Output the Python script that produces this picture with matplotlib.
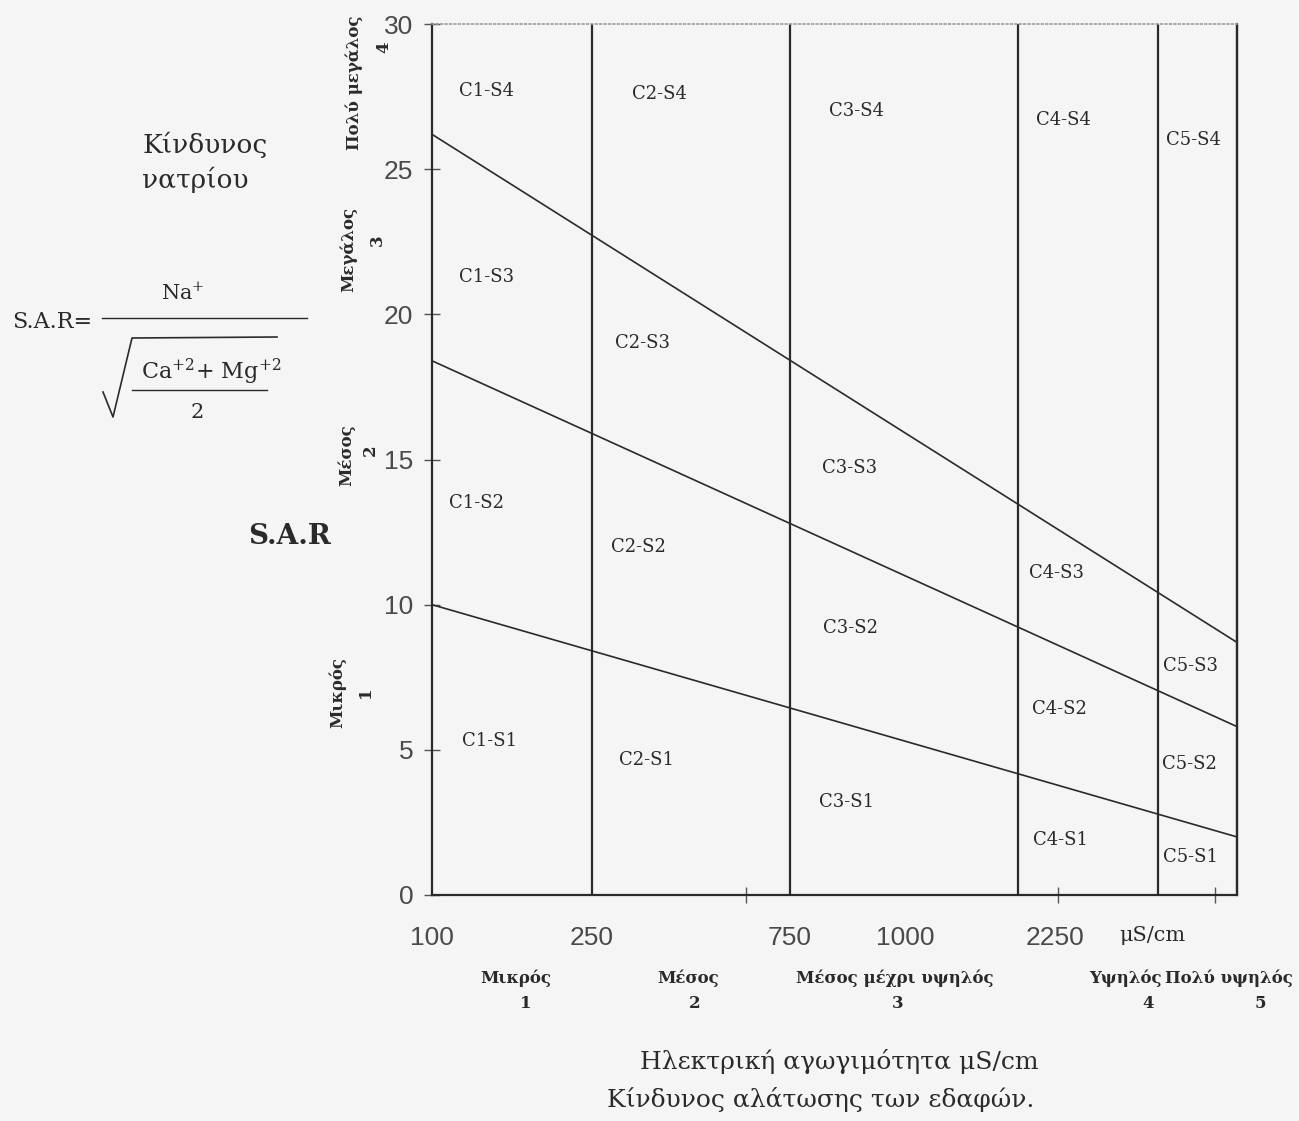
import matplotlib.pyplot as plt
from matplotlib import font_manager
from matplotlib.lines import Line2D

plt.rcParams['mathtext.fontset'] = 'dejavuserif'

# --- data (x in diagram units, SAR on y) ---
sar_ticks = [0, 5, 10, 15, 20, 25, 30]
ec_labels = ['100', '250', '750', '1000', '2250', 'μS/cm']
ec_label_pos = [0, 160, 358, 473, 623, 720]
ec_tick_marks = [0, 160, 314, 473, 626, 783]
class_bounds = [160, 358, 586, 726, 805]

line_x = [0, 805]
s4_limit = [26.2, 8.7]
s3_limit = [18.4, 5.8]
s2_limit = [10.0, 2.0]

region_names = ['C1-S4', 'C2-S4', 'C3-S4', 'C4-S4', 'C5-S4',
                'C1-S3', 'C2-S3', 'C3-S3', 'C4-S3', 'C5-S3',
                'C1-S2', 'C2-S2', 'C3-S2', 'C4-S2', 'C5-S2',
                'C1-S1', 'C2-S1', 'C3-S1', 'C4-S1', 'C5-S1']
region_x = [55, 227, 425, 631, 761,
            55, 211, 418, 625, 759,
            45, 206, 418, 627, 757,
            58, 215, 415, 628, 759]
region_y = [27.7, 27.6, 27.0, 26.7, 26.0,
            21.3, 19.0, 14.7, 11.1, 7.9,
            13.5, 12.0, 9.2, 6.4, 4.5,
            5.3, 4.65, 3.2, 1.9, 1.3]

ink = '#2a2a2a'
bg = '#f5f5f5'

names = {f.name for f in font_manager.fontManager.ttflist}
tick_font = 'Liberation Sans Narrow' if 'Liberation Sans Narrow' in names else 'Liberation Sans'

W, H = 1299, 1121
fig = plt.figure(figsize=(12.99, 11.21), dpi=100, facecolor=bg)


def fx(px):
    return px / W


def fy(py):
    return 1 - py / H


ax = fig.add_axes([fx(432), fy(895), fx(1237) - fx(432), fy(24) - fy(895)])
ax.set_facecolor(bg)
ax.set_xlim(0, 805)
ax.set_ylim(0, 30)

ax.vlines(class_bounds, 0, 30, color=ink, lw=1.6, clip_on=False)
for lim in [s4_limit, s3_limit, s2_limit]:
    ax.plot(line_x, lim, color=ink, lw=1.2, clip_on=False)

for name, x, y in zip(region_names, region_x, region_y):
    ax.text(x, y, name, ha='center', va='center', family='DejaVu Serif',
            fontsize=13, color=ink)

# spines
for s in ['left', 'bottom', 'right']:
    ax.spines[s].set_color(ink)
    ax.spines[s].set_linewidth(1.6)
ax.spines['top'].set_color('#9a9a9a')
ax.spines['top'].set_linestyle(':')
ax.spines['top'].set_linewidth(1.2)

# y ticks
ax.set_yticks(sar_ticks)
ax.set_yticklabels([str(t) for t in sar_ticks], family=tick_font,
                   fontsize=19, color='#4a4a4a')
ax.tick_params(axis='y', direction='inout', length=11, width=1,
               color='#555555', pad=8)

# x ticks: marks as minor, labels as major
ax.set_xticks(ec_tick_marks, minor=True)
ax.set_xticks(ec_label_pos)
ax.set_xticklabels(ec_labels, family=tick_font, fontsize=19, color='#4a4a4a')
ax.get_xticklabels()[-1].set_family('DejaVu Serif')
ax.get_xticklabels()[-1].set_fontsize(15)
ax.get_xticklabels()[-1].set_color(ink)
ax.tick_params(axis='x', which='major', length=0, pad=22)
ax.tick_params(axis='x', which='minor', direction='inout', length=11,
               width=1, color='#555555')

# rotated hazard class labels on the left
bold = dict(family='DejaVu Serif', fontweight='bold', color=ink, fontsize=12)
left_words = ['Πολύ μεγάλος', 'Μεγάλος', 'Μέσος', 'Μικρός']
left_word_pos = [(354, 83), (349, 249), (347, 455), (337, 693)]
left_digits = ['4', '3', '2', '1']
left_digit_pos = [(384, 47), (377, 240), (370, 450), (365, 692)]
for w, (x, y) in zip(left_words, left_word_pos):
    fig.text(fx(x), fy(y), w, rotation=90, ha='center', va='center', **bold)
for d, (x, y) in zip(left_digits, left_digit_pos):
    fig.text(fx(x), fy(y), d, rotation=90, ha='center', va='center', **bold)

# salinity classes below the axis
bottom_words = ['Μικρός', 'Μέσος', 'Μέσος μέχρι υψηλός', 'Υψηλός']
bottom_word_x = [516, 688, 895, 1125]
bottom_digits = ['1', '2', '3', '4', '5']
bottom_digit_x = [526, 695, 898, 1148, 1260]
for w, x in zip(bottom_words, bottom_word_x):
    fig.text(fx(x), fy(978), w, ha='center', va='center', **bold)
fig.text(fx(1165), fy(978), 'Πολύ υψηλός', ha='left', va='center', **bold)
for d, x in zip(bottom_digits, bottom_digit_x):
    fig.text(fx(x), fy(1004), d, ha='center', va='center', **bold)

serif = dict(family='DejaVu Serif', color=ink)
fig.text(fx(839), fy(1062), 'Ηλεκτρική αγωγιμότητα μS/cm', ha='center',
         va='center', fontsize=18, **serif)
fig.text(fx(821), fy(1100), 'Κίνδυνος αλάτωσης των εδαφών.', ha='center',
         va='center', fontsize=18, **serif)

fig.text(fx(142), fy(145), 'Κίνδυνος', ha='left', va='center', fontsize=19, **serif)
fig.text(fx(142), fy(180), 'νατρίου', ha='left', va='center', fontsize=19, **serif)

fig.text(fx(290), fy(537), 'S.A.R', ha='center', va='center', fontsize=20,
         fontweight='bold', **serif)

# SAR formula
fig.text(fx(12), fy(322), 'S.A.R=', ha='left', va='center', fontsize=16, **serif)
fig.add_artist(Line2D([fx(102), fx(307)], [fy(318), fy(318)], color=ink, lw=1))
fig.text(fx(183), fy(293), 'Na$^{+}$', ha='center', va='center', fontsize=15, **serif)
fig.add_artist(Line2D([fx(103), fx(113), fx(132), fx(277)],
                      [fy(392), fy(417), fy(338), fy(337)], color=ink, lw=1.2))
fig.text(fx(211), fy(372), 'Ca$^{+2}$+ Mg$^{+2}$', ha='center', va='center',
         fontsize=16, **serif)
fig.add_artist(Line2D([fx(132), fx(267)], [fy(390), fy(390)], color=ink, lw=1))
fig.text(fx(197), fy(412), '2', ha='center', va='center', fontsize=15, **serif)

fig.savefig('out.png', dpi=100, facecolor=bg)
